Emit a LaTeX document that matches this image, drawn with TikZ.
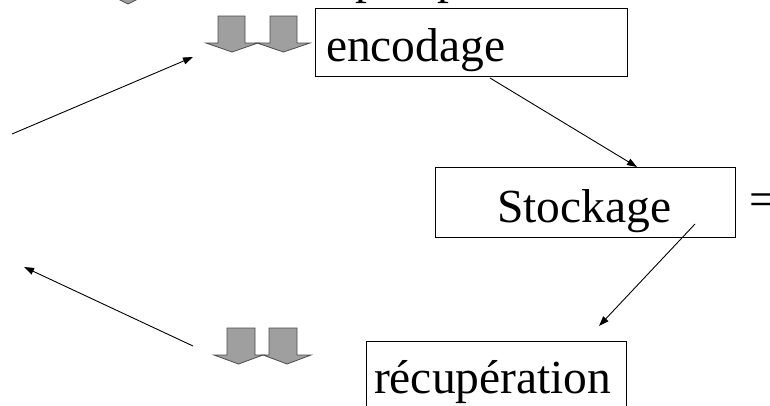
\documentclass[tikz,border=0pt]{standalone}
\usepackage{fontspec}
\setmainfont{Liberation Serif}
\usetikzlibrary{arrows.meta,calc}

\tikzset{
  box/.style={draw=black, line width=1pt, rectangle, inner sep=0pt, outer sep=0pt, anchor=north west},
  word/.style={inner sep=0pt, outer sep=0pt, anchor=base west, font=\fontsize{47.5}{52}\selectfont},
  link/.style={draw=black, line width=0.9pt, -{Triangle[length=10pt,width=7pt]}},
  blockarrow/.style={fill=gray!75, draw=black!70, line width=0.8pt, line join=miter}
}

% a downward block arrow: #1 = shaft left, #2 = shaft right, #3 = head left, #4 = head right,
% #5 = top, #6 = head base, #7 = tip
\newcommand{\downblock}[7]{%
  \path[blockarrow] (#1,#5) -- (#2,#5) -- (#2,#6) -- (#4,#6) -- ({(#3+#4)/2},#7)
    -- (#3,#6) -- (#1,#6) -- cycle;}

\begin{document}
\begin{tikzpicture}[x=1pt,y=-1pt]
  \useasboundingbox (0,0) rectangle (770,405);
  \clip (0,0) rectangle (770,405);
  \fill[white] (0,0) rectangle (770,405);

  % heading line above, mostly outside the frame
  \node[word] (p1) at (355,-7) {p};
  \node[word] (p2) at (437,-7) {p};
  \path[blockarrow] (108,-6) -- (148,-6) -- (128,4) -- cycle;

  % the three stages
  \node[box, minimum width=312pt, minimum height=68pt] (enc) at (315,8) {};
  \node[word] (enctext) at (326,61) {encodage};

  \node[box, minimum width=300pt, minimum height=70pt] (stock) at (435,167) {};
  \node[word] (stocktext) at (497,222) {Stockage};
  \node[word] (eq) at (749,215) {=};

  \node[box, minimum width=260pt, minimum height=90pt] (recup) at (366,341) {};
  \node[word] (recuptext) at (374,393) {récupération};

  % grey block arrows
  \downblock{218}{245}{206}{258}{16}{43}{52}
  \downblock{270}{297}{257}{310}{16}{43}{52}
  \downblock{227}{255}{214}{263}{328}{355}{364}
  \downblock{269}{297}{263}{311}{328}{355}{364}

  % connectors
  \coordinate (inL) at (12,134);
  \coordinate (inR) at (193,57);
  \coordinate (outR) at (193,346);
  \coordinate (outL) at (24,267);
  \draw[link] (inL) -- (inR);
  \draw[link] ($(enc.south west)+(175,2)$) -- ($(stock.north west)+(202,0)$);
  \draw[link] ($(stock.north west)+(260,57)$) -- ($(recup.north west)+(233,-15)$);
  \draw[link] (outR) -- (outL);
\end{tikzpicture}
\end{document}
